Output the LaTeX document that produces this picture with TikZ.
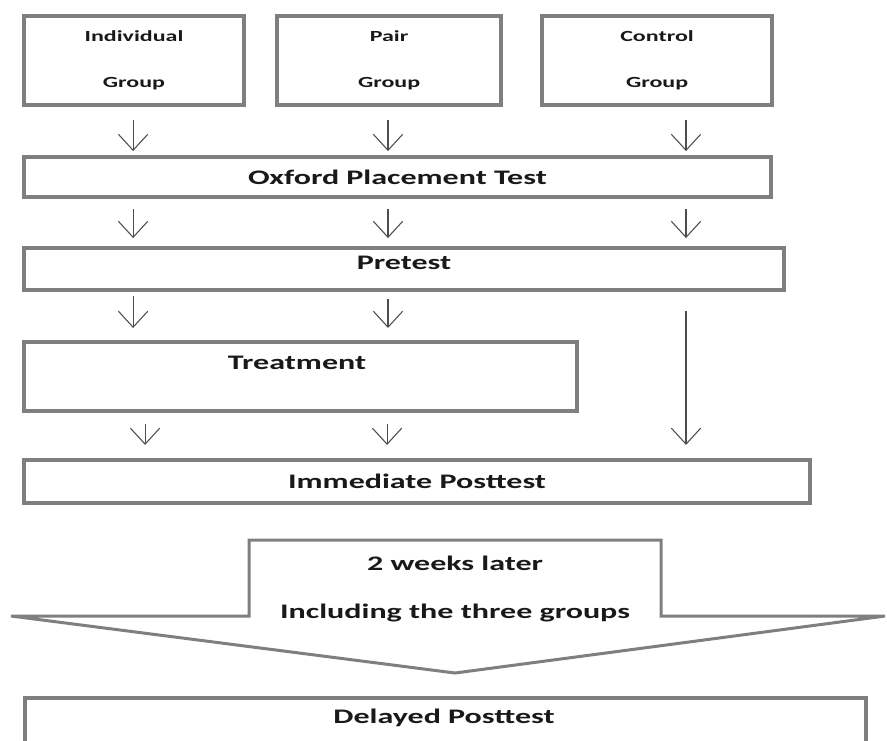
\documentclass[tikz,border=0pt]{standalone}
\usepackage{fontspec}
\newfontfamily\chartfont{Carlito}[FakeStretch=1.55]
\usetikzlibrary{calc,arrows.meta}
\definecolor{boxgray}{HTML}{7F7F7F}
\definecolor{flowgray}{HTML}{4D4D4D}

\begin{document}
\begin{tikzpicture}[x=1pt,y=-1pt,
  box/.style={draw=boxgray,line width=3pt,inner sep=0pt,text=black!90,
    font=\chartfont\bfseries\fontsize{15.5}{18}\selectfont},
  group/.style={box,minimum height=66.8pt,align=center,
    font=\chartfont\bfseries\fontsize{11.6}{34.5}\selectfont},
  lbl/.style={inner sep=0pt,text=black!90,
    font=\chartfont\bfseries\fontsize{15.5}{18}\selectfont},
  flow/.style={draw=flowgray,line width=0.8pt,
    -{Straight Barb[length=12pt,width=22pt]}}]
\clip (0,0) rectangle (665.25,555);

\node[group,minimum width=165pt] (indiv) at (100.5,45.4) {Individual\\Group};
\node[group,minimum width=168pt] (pair) at (291.8,45.4) {Pair\\Group};
\node[group,minimum width=172.5pt] (control) at (492.8,45.4) {Control\\Group};

\node[box,minimum width=560.3pt,minimum height=30pt] (oxford) at (298.1,132.8) {Oxford Placement Test};
\node[box,minimum width=570pt,minimum height=31.5pt,text depth=9pt] (pretest) at (303,201.8) {Pretest};
\node[box,minimum width=414.8pt,minimum height=51.8pt] (treat) at (225.4,282.4) {};
\node[lbl] (treatlbl) at (222.8,272.3) {Treatment};
\node[box,minimum width=589.5pt,minimum height=32.3pt] (immediate) at (312.8,361.1) {Immediate Posttest};
\node[box,minimum width=630.8pt,minimum height=45pt] (delayed) at (334.1,546) {};
\node[lbl] (delayedlbl) at (333,538.5) {Delayed Posttest};

% columns of the small arrows
\coordinate (colA) at (99.8,0);
\coordinate (colB) at (291,0);
\coordinate (colC) at (514.5,0);
\coordinate (colD) at (108.8,0);
\coordinate (colE) at (290.3,0);

\foreach \c in {colA,colB,colC}{
  \draw[flow] ($(indiv.south -| \c)+(0,9.75)$) -- ($(oxford.north -| \c)+(0,-3)$);
  \draw[flow] ($(oxford.south -| \c)+(0,7.5)$) -- ($(pretest.north -| \c)+(0,-6)$);
}
\draw[flow] ($(pretest.south -| colA)+(0,3)$) -- ($(treat.north -| colA)+(0,-9)$);
\draw[flow] ($(pretest.south -| colB)+(0,5.5)$) -- ($(treat.north -| colB)+(0,-9)$);
\draw[flow] ($(pretest.south -| colC)+(0,14)$) -- ($(immediate.north -| colC)+(0,-9.75)$);
\draw[flow] ($(treat.south -| colD)+(0,8.25)$) -- ($(immediate.north -| colD)+(0,-9.75)$);
\draw[flow] ($(treat.south -| colE)+(0,8.25)$) -- ($(immediate.north -| colE)+(0,-9.75)$);

% the big arrow down to the delayed test
\coordinate (bodyL) at (186.75,405);
\coordinate (bodyR) at (495.75,405);
\coordinate (tip) at (341.25,504.75);
\draw[boxgray,line width=2.25pt,line join=miter]
  (bodyL)--(bodyR)--(bodyR |- 0,462)--(663.75,462)--(tip)--(8.25,462)--(bodyL |- 0,462)--cycle;
\node[lbl] (weeks) at (341.3,422.3) {2 weeks later};
\node[lbl] (groups) at (341.3,459.8) {Including the three groups};

\end{tikzpicture}
\end{document}
